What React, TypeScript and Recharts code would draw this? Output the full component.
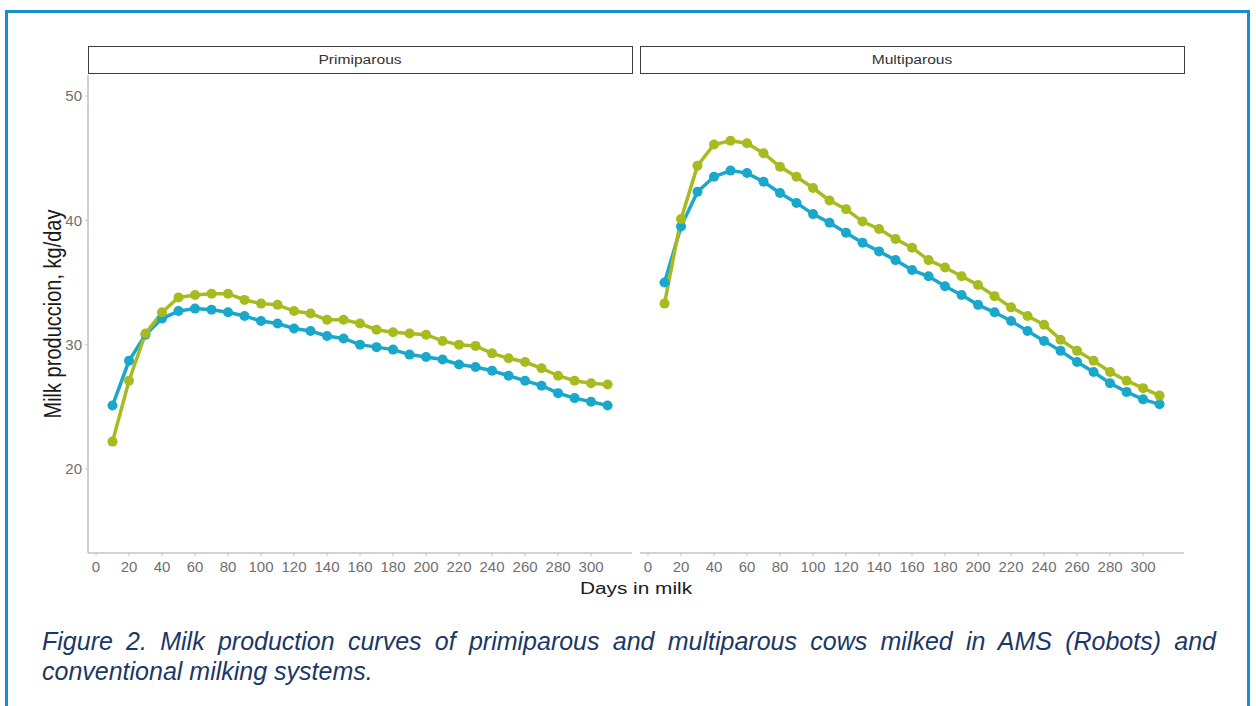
import { LineChart, Line, XAxis, YAxis } from "recharts";

const days = [
  10, 20, 30, 40, 50, 60, 70, 80, 90, 100, 110, 120, 130, 140, 150, 160, 170,
  180, 190, 200, 210, 220, 230, 240, 250, 260, 270, 280, 290, 300, 310,
];

// primiparous
const primiBlue = [
  25.1, 28.7, 30.8, 32.1, 32.7, 32.9, 32.8, 32.6, 32.3, 31.9, 31.7, 31.3, 31.1,
  30.7, 30.5, 30.0, 29.8, 29.6, 29.2, 29.0, 28.8, 28.4, 28.2, 27.9, 27.5, 27.1,
  26.7, 26.1, 25.7, 25.4, 25.1,
];
const primiOlive = [
  22.2, 27.1, 30.9, 32.6, 33.8, 34.0, 34.1, 34.1, 33.6, 33.3, 33.2, 32.7, 32.5,
  32.0, 32.0, 31.7, 31.2, 31.0, 30.9, 30.8, 30.3, 30.0, 29.9, 29.3, 28.9, 28.6,
  28.1, 27.5, 27.1, 26.9, 26.8,
];

// multiparous
const multiBlue = [
  35.0, 39.5, 42.3, 43.5, 44.0, 43.8, 43.1, 42.2, 41.4, 40.5, 39.8, 39.0, 38.2,
  37.5, 36.8, 36.0, 35.5, 34.7, 34.0, 33.2, 32.6, 31.9, 31.1, 30.3, 29.5, 28.6,
  27.8, 26.9, 26.2, 25.6, 25.2,
];
const multiOlive = [
  33.3, 40.1, 44.4, 46.1, 46.4, 46.2, 45.4, 44.3, 43.5, 42.6, 41.6, 40.9, 39.9,
  39.3, 38.5, 37.8, 36.8, 36.2, 35.5, 34.8, 33.9, 33.0, 32.3, 31.6, 30.4, 29.5,
  28.7, 27.8, 27.1, 26.5, 25.9,
];

const xTicks = [
  0, 20, 40, 60, 80, 100, 120, 140, 160, 180, 200, 220, 240, 260, 280, 300,
];
const yTicks = [20, 30, 40, 50];

const BLUE = "#19a8cb";
const OLIVE = "#a8bb1e";
const AXIS = "#c2c2c2";
const FONT = "'Liberation Sans', Arial, sans-serif";

const toRows = (blue: number[], olive: number[]) =>
  days.map((d, i) => ({ day: d, blue: blue[i], olive: olive[i] }));

const tickStyle = { fill: "#6f6f6f", fontSize: 15, fontFamily: FONT };

const Panel = ({ data, withY }: { data: any[]; withY: boolean }) => (
  <LineChart
    width={withY ? 584 : 544}
    height={508}
    data={data}
    margin={{ top: 0, right: 0, bottom: 0, left: 0 }}
  >
    <XAxis
      dataKey="day"
      type="number"
      domain={[-4.85, 324.8]}
      ticks={xTicks}
      interval={0}
      allowDataOverflow
      height={30}
      tickSize={3}
      tickMargin={5}
      axisLine={{ stroke: AXIS, strokeWidth: 1.5 }}
      tickLine={{ stroke: AXIS }}
      tick={tickStyle}
    />
    <YAxis
      hide={!withY}
      type="number"
      domain={[13.24, 51.69]}
      ticks={yTicks}
      allowDataOverflow
      width={40}
      tickSize={3}
      tickMargin={3}
      axisLine={{ stroke: AXIS, strokeWidth: 1.5 }}
      tickLine={{ stroke: AXIS }}
      tick={tickStyle}
    />
    <Line
      dataKey="blue"
      stroke={BLUE}
      strokeWidth={3.5}
      dot={{ r: 5, fill: BLUE, stroke: BLUE, strokeWidth: 0 }}
      activeDot={false}
      isAnimationActive={false}
    />
    <Line
      dataKey="olive"
      stroke={OLIVE}
      strokeWidth={3.5}
      dot={{ r: 5, fill: OLIVE, stroke: OLIVE, strokeWidth: 0 }}
      activeDot={false}
      isAnimationActive={false}
    />
  </LineChart>
);

const Strip = ({ label, left }: { label: string; left: number }) => (
  <div
    style={{
      position: "absolute",
      left,
      top: 46,
      width: 545,
      height: 28,
      boxSizing: "border-box",
      border: "1.5px solid #3c3c3c",
      background: "#fff",
      display: "flex",
      alignItems: "center",
      justifyContent: "center",
      fontFamily: FONT,
      fontSize: 12,
      color: "#333",
    }}
  >
    <span style={{ display: "inline-block", transform: "scaleX(1.3)" }}>
      {label}
    </span>
  </div>
);

export default function App() {
  return (
    <div
      style={{
        position: "absolute",
        left: 0,
        top: 0,
        width: 1256,
        height: 706,
        background: "#fff",
        overflow: "hidden",
        fontFamily: FONT,
      }}
    >
      <div
        style={{
          position: "absolute",
          left: 5,
          top: 10,
          width: 1245,
          height: 740,
          boxSizing: "border-box",
          border: "3px solid #1b8bd2",
        }}
      />
      <Strip label="Primiparous" left={88} />
      <Strip label="Multiparous" left={640} />

      <div style={{ position: "absolute", left: 48, top: 75 }}>
        <Panel data={toRows(primiBlue, primiOlive)} withY />
      </div>
      <div style={{ position: "absolute", left: 640, top: 75 }}>
        <Panel data={toRows(multiBlue, multiOlive)} withY={false} />
      </div>

      <div
        style={{
          position: "absolute",
          left: 53,
          top: 314,
          transform: "translate(-50%, -50%) rotate(-90deg) scaleY(1.15)",
          whiteSpace: "nowrap",
          fontSize: 20,
          lineHeight: 1,
          color: "#1a1a1a",
        }}
      >
        Milk produccion, kg/day
      </div>
      <div
        style={{
          position: "absolute",
          left: 636,
          top: 589,
          transform: "translate(-50%, -50%) scaleX(1.3)",
          whiteSpace: "nowrap",
          fontSize: 16,
          lineHeight: 1,
          color: "#1a1a1a",
        }}
      >
        Days in milk
      </div>

      <div
        style={{
          position: "absolute",
          left: 42,
          top: 626,
          width: 1174,
          fontSize: 25,
          lineHeight: "30px",
          fontStyle: "italic",
          color: "#1b3766",
        }}
      >
        <div style={{ textAlign: "justify", textAlignLast: "justify" }}>
          Figure 2. Milk production curves of primiparous and multiparous cows
          milked in AMS (Robots) and
        </div>
        <div>conventional milking systems.</div>
      </div>
    </div>
  );
}
